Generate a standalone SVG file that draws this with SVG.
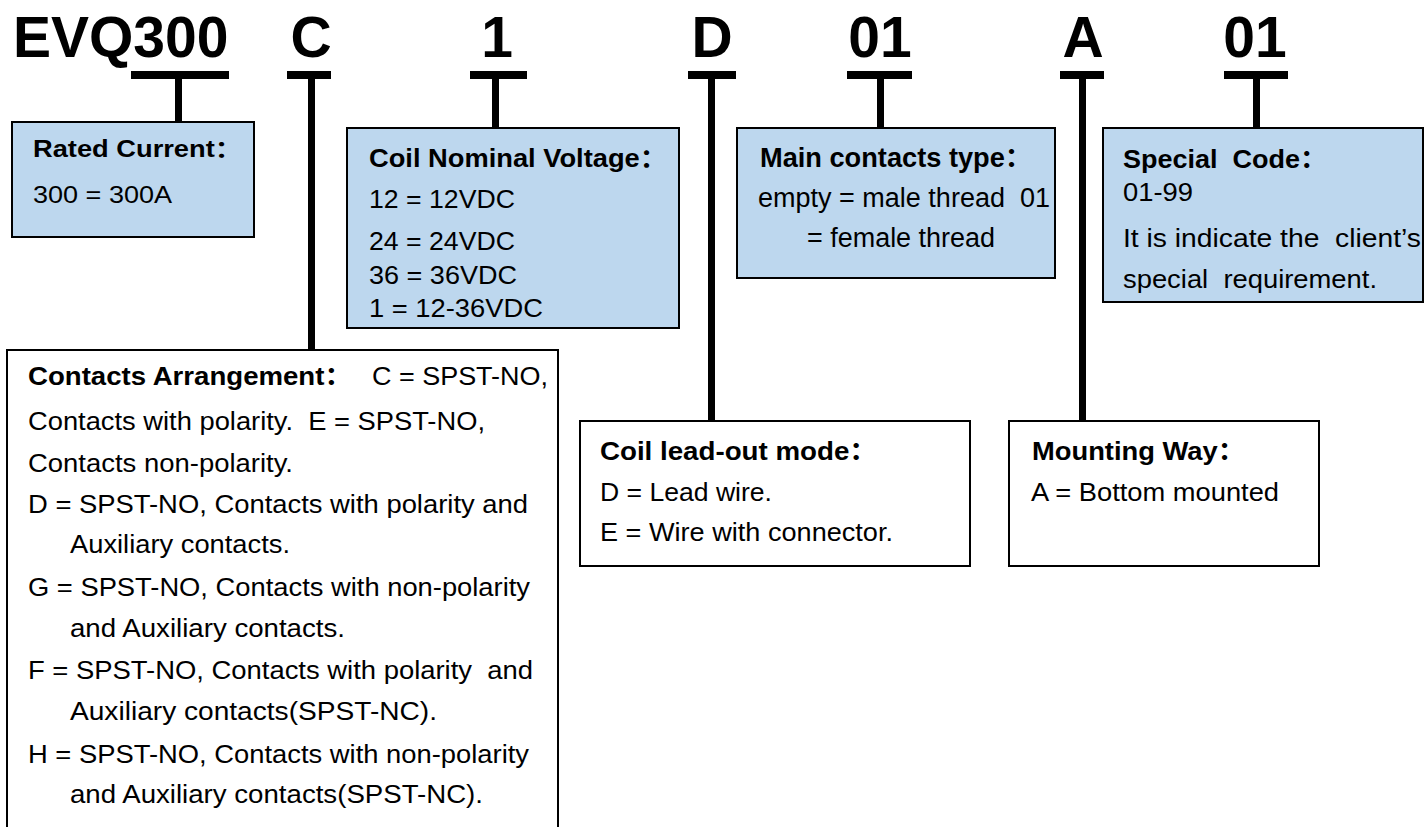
<svg xmlns="http://www.w3.org/2000/svg" width="1428" height="827" viewBox="0 0 1428 827">
<style>
text{font-family:"Liberation Sans","Noto Sans CJK SC",Arial,sans-serif;fill:#000;white-space:pre}
.hd{font-size:57px;font-weight:bold}
.t{font-weight:bold}
.blue{fill:#BDD7EE;stroke:#000;stroke-width:2}
.white{fill:#fff;stroke:#000;stroke-width:2}
.bar{fill:#000}
</style>
<rect width="1428" height="827" fill="#fff"/>
<g id="header">
<text class="hd" x="13" y="57">EVQ300</text>
<text class="hd" x="311" y="57" text-anchor="middle">C</text>
<text class="hd" x="497" y="57" text-anchor="middle">1</text>
<text class="hd" x="712" y="57" text-anchor="middle">D</text>
<text class="hd" x="880" y="57" text-anchor="middle">01</text>
<text class="hd" x="1083" y="57" text-anchor="middle">A</text>
<text class="hd" x="1255" y="57" text-anchor="middle">01</text>
</g>
<g id="connectors">
<rect class="bar" x="131" y="71" width="98" height="8"/><rect class="bar" x="175" y="71" width="7" height="51"/>
<rect class="bar" x="287" y="71" width="44" height="8"/><rect class="bar" x="308" y="71" width="7" height="279"/>
<rect class="bar" x="470" y="71" width="57" height="8"/><rect class="bar" x="492" y="71" width="7" height="57"/>
<rect class="bar" x="688" y="71" width="48" height="8"/><rect class="bar" x="708" y="71" width="7" height="350"/>
<rect class="bar" x="847" y="71" width="65" height="8"/><rect class="bar" x="877" y="71" width="7" height="57"/>
<rect class="bar" x="1060" y="71" width="44" height="8"/><rect class="bar" x="1079" y="71" width="7" height="350"/>
<rect class="bar" x="1224" y="71" width="64" height="8"/><rect class="bar" x="1253" y="71" width="7" height="57"/>
</g>
<g id="rated-current" font-size="23">
<rect class="blue" x="12" y="122" width="242" height="115"/>
<text class="t" x="33" y="157" textLength="209" lengthAdjust="spacingAndGlyphs">Rated Current：</text>
<text x="33" y="203" textLength="139" lengthAdjust="spacingAndGlyphs">300 = 300A</text>
</g>
<g id="coil-voltage" font-size="25">
<rect class="blue" x="347" y="128" width="332" height="200"/>
<text class="t" x="369" y="167" textLength="298" lengthAdjust="spacingAndGlyphs">Coil Nominal Voltage：</text>
<text x="369" y="208" textLength="146" lengthAdjust="spacingAndGlyphs">12 = 12VDC</text>
<text x="369" y="250" textLength="146" lengthAdjust="spacingAndGlyphs">24 = 24VDC</text>
<text x="369" y="284" textLength="148" lengthAdjust="spacingAndGlyphs">36 = 36VDC</text>
<text x="369" y="317" textLength="174" lengthAdjust="spacingAndGlyphs">1 = 12-36VDC</text>
</g>
<g id="main-contacts" font-size="27">
<rect class="blue" x="737" y="128" width="318" height="150"/>
<text class="t" x="760" y="167" textLength="272" lengthAdjust="spacingAndGlyphs">Main contacts type：</text>
<text x="758" y="207" textLength="292" lengthAdjust="spacingAndGlyphs">empty = male thread  01</text>
<text x="807" y="247" textLength="188" lengthAdjust="spacingAndGlyphs">= female thread</text>
</g>
<g id="special-code" font-size="26">
<rect class="blue" x="1103" y="128" width="320" height="174"/>
<text class="t" x="1123" y="168" textLength="204" lengthAdjust="spacingAndGlyphs">Special  Code：</text>
<text x="1123" y="201" textLength="70" lengthAdjust="spacingAndGlyphs">01-99</text>
<text x="1123" y="247" textLength="298" lengthAdjust="spacingAndGlyphs">It is indicate the  client’s</text>
<text x="1123" y="288" textLength="254" lengthAdjust="spacingAndGlyphs">special  requirement.</text>
</g>
<g id="contacts-arrangement" font-size="26">
<rect class="white" x="7" y="350" width="551" height="490"/>
<text class="t" x="28" y="385" textLength="324" lengthAdjust="spacingAndGlyphs">Contacts Arrangement：</text>
<text x="372" y="385" textLength="176" lengthAdjust="spacingAndGlyphs">C = SPST-NO,</text>
<text x="28" y="430" textLength="457" lengthAdjust="spacingAndGlyphs">Contacts with polarity.  E = SPST-NO,</text>
<text x="28" y="472" textLength="265" lengthAdjust="spacingAndGlyphs">Contacts non-polarity.</text>
<text x="28" y="513" textLength="500" lengthAdjust="spacingAndGlyphs">D = SPST-NO, Contacts with polarity and</text>
<text x="70" y="553" textLength="220" lengthAdjust="spacingAndGlyphs">Auxiliary contacts.</text>
<text x="28" y="596" textLength="502" lengthAdjust="spacingAndGlyphs">G = SPST-NO, Contacts with non-polarity</text>
<text x="70" y="637" textLength="275" lengthAdjust="spacingAndGlyphs">and Auxiliary contacts.</text>
<text x="28" y="679" textLength="505" lengthAdjust="spacingAndGlyphs">F = SPST-NO, Contacts with polarity  and</text>
<text x="70" y="720" textLength="367" lengthAdjust="spacingAndGlyphs">Auxiliary contacts(SPST-NC).</text>
<text x="28" y="763" textLength="501" lengthAdjust="spacingAndGlyphs">H = SPST-NO, Contacts with non-polarity</text>
<text x="70" y="803" textLength="413" lengthAdjust="spacingAndGlyphs">and Auxiliary contacts(SPST-NC).</text>
</g>
<g id="coil-lead-out" font-size="26">
<rect class="white" x="580" y="421" width="390" height="145"/>
<text class="t" x="600" y="460" textLength="277" lengthAdjust="spacingAndGlyphs">Coil lead-out mode：</text>
<text x="600" y="501" textLength="172" lengthAdjust="spacingAndGlyphs">D = Lead wire.</text>
<text x="600" y="541" textLength="293" lengthAdjust="spacingAndGlyphs">E = Wire with connector.</text>
</g>
<g id="mounting-way" font-size="26">
<rect class="white" x="1009" y="421" width="310" height="145"/>
<text class="t" x="1032" y="460" textLength="213" lengthAdjust="spacingAndGlyphs">Mounting Way：</text>
<text x="1031" y="501" textLength="248" lengthAdjust="spacingAndGlyphs">A = Bottom mounted</text>
</g>
</svg>
